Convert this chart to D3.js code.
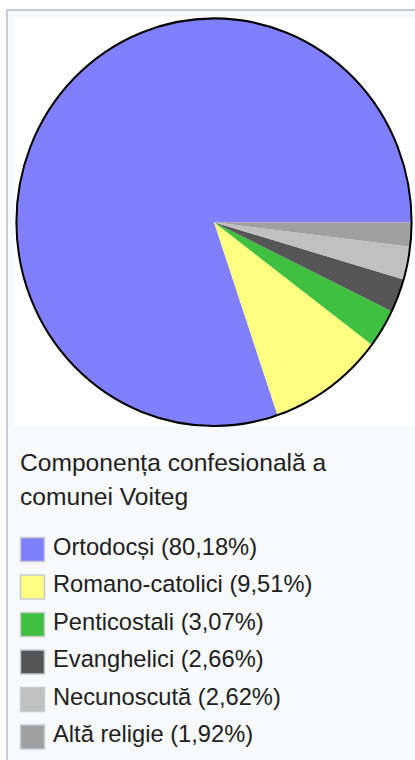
<!DOCTYPE html>
<html>
<head>
<meta charset="utf-8">
<script src="https://cdn.jsdelivr.net/npm/d3@7"></script>
<style>
  body { margin: 0; background: #fff; }
  svg { display: block; font-family: "Liberation Sans", Arial, sans-serif; }
</style>
</head>
<body>
<div class="svg-container"></div>
<script>
// data
var labels = ["Ortodocși", "Romano-catolici", "Penticostali", "Evanghelici", "Necunoscută", "Altă religie"];
var values = [80.18, 9.51, 3.07, 2.66, 2.62, 1.92];
var colors = ["#8080ff", "#ffff80", "#40c040", "#555555", "#c0c0c0", "#a0a0a0"];
var titleLines = ["Componența confesională a", "comunei Voiteg"];

var pageWidth = 415,
    pageHeight = 760;

var cx = 214, cy = 222.2,
    rx = 197.6, ry = 203.8;

var svg = d3.select(".svg-container")
  .append("svg")
  .attr("width", pageWidth)
  .attr("height", pageHeight);

// box frame
svg.append("rect")
  .attr("x", 7).attr("y", 10)
  .attr("width", pageWidth).attr("height", pageHeight)
  .attr("fill", "#f8f9fa")
  .attr("stroke", "#c8ccd1")
  .attr("stroke-width", 2);

svg.append("rect")
  .attr("x", 14).attr("y", 17)
  .attr("width", pageWidth).attr("height", 410)
  .attr("fill", "#ffffff");

// pie
var pie = d3.pie().sort(null)
  .startAngle(Math.PI / 2)
  .endAngle(Math.PI / 2 - 2 * Math.PI);

var arc = d3.arc().innerRadius(0).outerRadius(rx);

var g = svg.append("g")
  .attr("transform", "translate(" + cx + "," + cy + ") scale(1," + (ry / rx) + ")");

g.selectAll("path.slice")
  .data(pie(values))
  .enter()
  .append("path")
  .attr("class", "slice")
  .attr("fill", function(d, i) { return colors[i]; })
  .attr("d", arc);

g.append("ellipse")
  .attr("rx", rx).attr("ry", rx)
  .attr("fill", "none")
  .attr("stroke", "#000")
  .attr("stroke-width", 2);

// title
svg.selectAll("text.title")
  .data(titleLines)
  .enter()
  .append("text")
  .attr("class", "title")
  .attr("x", 20)
  .attr("y", function(d, i) { return 470.5 + i * 34; })
  .attr("fill", "#202122")
  .style("font-size", "24.6px")
  .text(function(d) { return d; });

// legend
var rowY = d3.scaleLinear().domain([0, 1]).range([537, 574.5]);

var legend = svg.selectAll("g.legend")
  .data(labels)
  .enter()
  .append("g")
  .attr("class", "legend")
  .attr("transform", function(d, i) { return "translate(0," + rowY(i) + ")"; });

legend.append("rect")
  .attr("x", 20.5).attr("y", 0.5)
  .attr("width", 24).attr("height", 24)
  .attr("fill", function(d, i) { return colors[i]; })
  .attr("stroke", "#c8ccd1")
  .attr("stroke-width", 1.5);

legend.append("text")
  .attr("x", 53)
  .attr("y", 17.5)
  .attr("fill", "#202122")
  .style("font-size", "23.7px")
  .text(function(d, i) { return d + " (" + d3.format(".2f")(values[i]).replace(".", ",") + "%)"; });
</script>
</body>
</html>
